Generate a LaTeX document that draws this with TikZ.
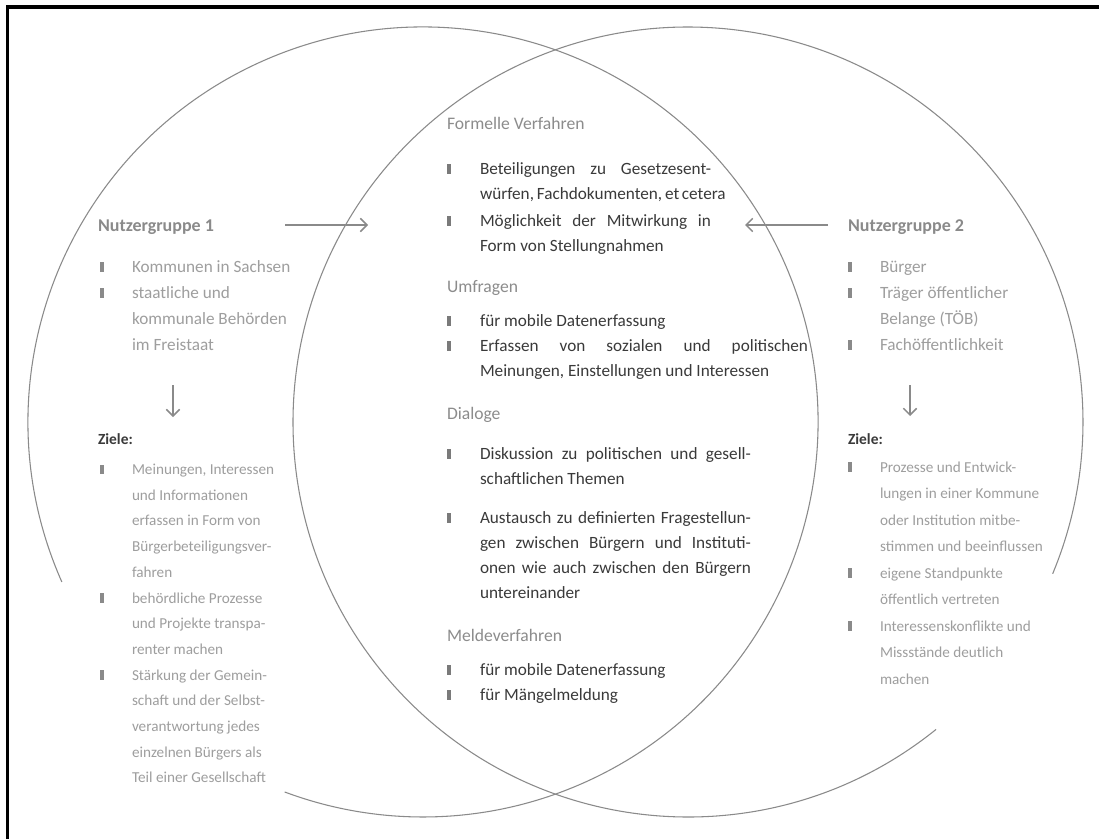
\documentclass[tikz,border=0pt]{standalone}
\usepackage{fontspec}
\setmainfont{Carlito}
\usetikzlibrary{arrows.meta}

\definecolor{ringgray}{HTML}{8A8A8A}
\definecolor{arrowgray}{HTML}{8A8A8A}
\definecolor{bodytext}{HTML}{3A3A3A}
\definecolor{headgray}{HTML}{8C8C8C}
\definecolor{sidegray}{HTML}{9E9E9E}
\definecolor{groupgray}{HTML}{8A8A8A}
\definecolor{markgray}{HTML}{7A7A7A}
\definecolor{sidemark}{HTML}{8A8A8A}

\newlength\pxu
\setlength\pxu{0.75pt}
% a line stretched (or squeezed) to the full measure
\newcommand\jline[1]{\makebox[\linewidth][s]{#1}}

\begin{document}
\begin{tikzpicture}[x=0.75pt,y=-0.75pt,
  ring/.style={draw=ringgray, line width=0.8pt},
  flow/.style={draw=arrowgray, line width=1.1pt, -{Straight Barb[length=5pt,width=10pt]}},
  bul/.style={fill=markgray, inner sep=0pt, minimum width=2.5pt, minimum height=7pt, anchor=south west},
  sbul/.style={bul, fill=sidemark},
  txt/.style={anchor=base west, inner sep=0pt, outer sep=0pt},
  ctext/.style={txt, text=bodytext, font=\fontsize{12.9}{18.9}\selectfont},
  chead/.style={txt, text=headgray, font=\fontsize{13.2}{15}\selectfont},
  stext/.style={txt, text=sidegray, font=\fontsize{12.9}{19.5}\selectfont},
  ztextL/.style={txt, text=sidegray, font=\fontsize{11.4}{19.3}\selectfont},
  ztextR/.style={txt, text=sidegray, font=\fontsize{11.4}{19.9}\selectfont},
  ghead/.style={txt, text=groupgray, font=\fontsize{13.5}{15}\selectfont\bfseries},
  zhead/.style={txt, text=bodytext, font=\fontsize{11.6}{15}\selectfont\bfseries},
]
\useasboundingbox (0,0) rectangle (1099,839);
\fill[white] (0,0) rectangle (1099,839);

% frame
\draw[black, line width=2.4pt, line join=miter] (7.5,839) -- (7.5,7) -- (1099,7);

% the two overlapping circles, each opened where its side text sits
\coordinate (cL) at (423,422);
\coordinate (cR) at (688,422);
\draw[ring] (cL) ++(156.1:395) arc[start angle=156.1, end angle=470.5, radius=395];
\draw[ring] (cR) ++(51.1:395) arc[start angle=51.1, end angle=382.6, radius=395];

% ---------------- user group 1 ----------------
\node[ghead] (g1) at (98,231) {Nutzergruppe 1};
\node[sbul] (g1b1) at (100,272) {};
\node[stext] (g1i1) at (132,272) {Kommunen in Sachsen};
\node[sbul] (g1b2) at (100,298) {};
\node[stext] (g1i2) at (132,298) {\parbox[t]{200\pxu}{staatliche und\\kommunale Behörden\\im Freistaat}};
\coordinate (d1s) at (173,385);
\coordinate (d1e) at (173,417);
\draw[flow] (d1s) -- (d1e);
\node[zhead] (z1) at (98,444) {Ziele:};
\node[sbul] (z1b1) at (100,474.5) {};
\node[ztextL] (z1i1) at (132,474.5) {\parbox[t]{200\pxu}{Meinungen, Interessen\\und Informationen\\erfassen in Form von\\Bürgerbeteiligungsver-\\fahren}};
\node[sbul] (z1b2) at (100,603) {};
\node[ztextL] (z1i2) at (132,603) {\parbox[t]{200\pxu}{behördliche Prozesse\\und Projekte transpa-\\renter machen}};
\node[sbul] (z1b3) at (100,680) {};
\node[ztextL] (z1i3) at (132,680) {\parbox[t]{200\pxu}{Stärkung der Gemein-\\schaft und der Selbst-\\verantwortung jedes\\einzelnen Bürgers als\\Teil einer Gesellschaft}};

% ---------------- user group 2 ----------------
\node[ghead] (g2) at (848,231) {Nutzergruppe 2};
\node[sbul] (g2b1) at (848,272) {};
\node[stext] (g2i1) at (880,272) {Bürger};
\node[sbul] (g2b2) at (848,298) {};
\node[stext] (g2i2) at (880,298) {\parbox[t]{200\pxu}{Träger öffentlicher\\Belange (TÖB)}};
\node[sbul] (g2b3) at (848,350) {};
\node[stext] (g2i3) at (880,350) {Fachöffentlichkeit};
\coordinate (d2s) at (910,385);
\coordinate (d2e) at (910,416);
\draw[flow] (d2s) -- (d2e);
\node[zhead] (z2) at (848,444) {Ziele:};
\node[sbul] (z2b1) at (848,472) {};
\node[ztextR] (z2i1) at (880,472) {\parbox[t]{200\pxu}{Prozesse und Entwick-\\lungen in einer Kommune\\oder Institution mitbe-\\stimmen und beeinflussen}};
\node[sbul] (z2b2) at (848,578) {};
\node[ztextR] (z2i2) at (880,578) {\parbox[t]{200\pxu}{eigene Standpunkte\\öffentlich vertreten}};
\node[sbul] (z2b3) at (848,631) {};
\node[ztextR] (z2i3) at (880,631) {\parbox[t]{200\pxu}{Interessenskonflikte und\\Missstände deutlich\\machen}};

% arrows from both groups into the shared area
\coordinate (a1s) at (285,225);
\coordinate (a1e) at (368,225);
\draw[flow] (a1s) -- (a1e);
\coordinate (a2s) at (828,225);
\coordinate (a2e) at (745,225);
\draw[flow] (a2s) -- (a2e);

% ---------------- shared area ----------------
\node[chead] (h1) at (447,129) {Formelle Verfahren};
\node[bul] (h1b1) at (447,174) {};
\node[ctext] (h1i1) at (480,174) {\parbox[t]{231\pxu}{\jline{Beteiligungen zu Gesetzesent-}\\\jline{würfen, Fachdokumenten, et cetera}}};
\node[bul] (h1b2) at (447,226) {};
\node[ctext] (h1i2) at (480,226) {\parbox[t]{231\pxu}{\jline{Möglichkeit der Mitwirkung in}\\Form von Stellungnahmen}};

\node[chead] (h2) at (447,292) {Umfragen};
\node[bul] (h2b1) at (447,326) {};
\node[ctext] (h2i1) at (480,326) {für mobile Datenerfassung};
\node[bul] (h2b2) at (447,351) {};
\node[ctext] (h2i2) at (480,351) {\parbox[t]{328\pxu}{\jline{Erfassen von sozialen und politischen}\\Meinungen, Einstellungen und Interessen}};

\node[chead] (h3) at (447,419) {Dialoge};
\node[bul] (h3b1) at (447,459) {};
\node[ctext] (h3i1) at (480,459) {\parbox[t]{271\pxu}{\jline{Diskussion zu politischen und gesell-}\\schaftlichen Themen}};
\node[bul] (h3b2) at (447,523) {};
\node[ctext] (h3i2) at (480,523) {\parbox[t]{271\pxu}{\jline{Austausch zu definierten Fragestellun-}\\\jline{gen zwischen Bürgern und Instituti-}\\\jline{onen wie auch zwischen den Bürgern}\\untereinander}};

\node[chead] (h4) at (447,641) {Meldeverfahren};
\node[bul] (h4b1) at (447,675) {};
\node[ctext] (h4i1) at (480,675) {für mobile Datenerfassung};
\node[bul] (h4b2) at (447,700) {};
\node[ctext] (h4i2) at (480,700) {für Mängelmeldung};
\end{tikzpicture}
\end{document}
